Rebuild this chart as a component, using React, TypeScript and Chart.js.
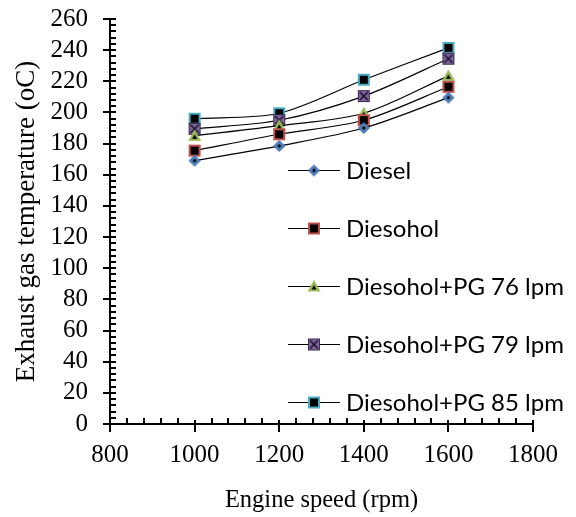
import React, { useEffect, useRef } from 'react';
import { Chart, registerables } from 'chart.js';

Chart.register(...registerables);

// ---- Data ----
const speeds = [1000, 1200, 1400, 1600];
const seriesLabels = [
  'Diesel',
  'Diesohol',
  'Diesohol+PG 76 lpm',
  'Diesohol+PG 79 lpm',
  'Diesohol+PG 85 lpm',
];
const diesel = [169, 178.5, 190, 209.5];
const diesohol = [175.5, 186, 195, 216.5];
const pg76 = [185, 191.5, 199.5, 223.5];
const pg79 = [189.5, 195, 210.5, 234.5];
const pg85 = [196, 199.5, 221, 241.5];
const xTitle = 'Engine speed (rpm)';
const yTitle = 'Exhaust gas temperature (oC)';

const SERIF = "'Liberation Serif', 'Times New Roman', serif";
const SANS = "Lato, 'Open Sans', sans-serif";

type Kind = 'diamond' | 'squareRed' | 'triangle' | 'squareX' | 'squareCyan';
const kinds: Kind[] = ['diamond', 'squareRed', 'triangle', 'squareX', 'squareCyan'];

function makeMarker(kind: Kind): HTMLCanvasElement {
  const s = 14;
  const c = document.createElement('canvas');
  c.width = s;
  c.height = s;
  const g = c.getContext('2d')!;
  const m = s / 2;
  if (kind === 'diamond') {
    g.beginPath();
    g.moveTo(m, m - 5.5);
    g.lineTo(m + 5.5, m);
    g.lineTo(m, m + 5.5);
    g.lineTo(m - 5.5, m);
    g.closePath();
    g.fillStyle = '#4F81BD';
    g.fill();
    g.strokeStyle = '#3A6AA8';
    g.lineWidth = 1;
    g.stroke();
    g.beginPath();
    g.moveTo(m, m - 2);
    g.lineTo(m + 2, m);
    g.lineTo(m, m + 2);
    g.lineTo(m - 2, m);
    g.closePath();
    g.fillStyle = '#000';
    g.fill();
  } else if (kind === 'squareRed' || kind === 'squareCyan') {
    g.fillStyle = kind === 'squareRed' ? '#C0504D' : '#4BACC6';
    g.fillRect(m - 6, m - 6, 12, 12);
    g.fillStyle = '#000';
    g.fillRect(m - 4, m - 4, 8, 8);
  } else if (kind === 'triangle') {
    g.beginPath();
    g.moveTo(m, m - 6.5);
    g.lineTo(m + 6.5, m + 5);
    g.lineTo(m - 6.5, m + 5);
    g.closePath();
    g.fillStyle = '#9BBB59';
    g.fill();
    g.beginPath();
    g.moveTo(m, m - 1.5);
    g.lineTo(m + 2.5, m + 3);
    g.lineTo(m - 2.5, m + 3);
    g.closePath();
    g.fillStyle = '#000';
    g.fill();
  } else {
    g.fillStyle = '#8064A2';
    g.fillRect(m - 6, m - 6, 12, 12);
    g.strokeStyle = '#3b2d4f';
    g.lineWidth = 1;
    g.strokeRect(m - 5.5, m - 5.5, 11, 11);
    g.strokeStyle = '#1a1226';
    g.lineWidth = 1.6;
    g.beginPath();
    g.moveTo(m - 4, m - 4);
    g.lineTo(m + 4, m + 4);
    g.moveTo(m + 4, m - 4);
    g.lineTo(m - 4, m + 4);
    g.stroke();
  }
  return c;
}

const axesPlugin = {
  id: 'excelAxes',
  afterDatasetsDraw(chart: any) {
    const { ctx, chartArea: ca, scales } = chart;
    const x = scales.x;
    const y = scales.y;
    ctx.save();
    ctx.strokeStyle = '#000';
    ctx.lineWidth = 2;
    ctx.beginPath();
    ctx.moveTo(ca.left, ca.top);
    ctx.lineTo(ca.left, ca.bottom);
    ctx.lineTo(ca.right, ca.bottom);
    ctx.stroke();
    ctx.beginPath();
    for (let v = 0; v <= 260; v += 4) {
      const py = Math.round(y.getPixelForValue(v));
      if (v % 20 === 0) {
        ctx.moveTo(ca.left - 7, py);
        ctx.lineTo(ca.left + 6, py);
      } else {
        ctx.moveTo(ca.left, py);
        ctx.lineTo(ca.left + 6, py);
      }
    }
    for (let v = 800; v <= 1800; v += 40) {
      const px = Math.round(x.getPixelForValue(v));
      if (v % 200 === 0) {
        ctx.moveTo(px, ca.bottom - 4);
        ctx.lineTo(px, ca.bottom + 8);
      } else {
        ctx.moveTo(px, ca.bottom - 6);
        ctx.lineTo(px, ca.bottom);
      }
    }
    ctx.stroke();
    ctx.restore();
  },
};

const legendPlugin = {
  id: 'insideLegend',
  afterDraw(chart: any) {
    const { ctx, chartArea: ca } = chart;
    ctx.save();
    const x0 = ca.left + 178;
    chart.data.datasets.forEach((ds: any, i: number) => {
      const yy = ca.top + 151.5 + i * 58;
      ctx.strokeStyle = '#000';
      ctx.lineWidth = 1.2;
      ctx.beginPath();
      ctx.moveTo(x0, yy);
      ctx.lineTo(x0 + 52, yy);
      ctx.stroke();
      const img = ds.pointStyle as HTMLCanvasElement;
      ctx.drawImage(img, x0 + 26 - img.width / 2, yy - img.height / 2);
      ctx.fillStyle = '#000';
      ctx.font = `24px ${SANS}`;
      ctx.textBaseline = 'middle';
      ctx.textAlign = 'left';
      ctx.fillText(ds.label, x0 + 58, yy + 1);
    });
    ctx.restore();
  },
};

export default function App() {
  const ref = useRef<HTMLCanvasElement>(null);
  useEffect(() => {
    const canvas = ref.current!;
    const values = [diesel, diesohol, pg76, pg79, pg85];
    const chart = new Chart(canvas, {
      type: 'line',
      data: {
        datasets: values.map((arr, i) => ({
          label: seriesLabels[i],
          data: speeds.map((s, j) => ({ x: s, y: arr[j] })),
          borderColor: '#000',
          borderWidth: 1.2,
          tension: 0.3,
          pointStyle: makeMarker(kinds[i]) as any,
          pointRadius: 6,
          fill: false,
        })),
      },
      options: {
        responsive: false,
        animation: false,
        devicePixelRatio: 1,
        layout: { padding: { top: 19, right: 43, left: 0, bottom: 0 } },
        plugins: {
          legend: { display: false },
          tooltip: { enabled: false },
        },
        scales: {
          x: {
            type: 'linear',
            min: 800,
            max: 1800,
            grid: { display: false, drawTicks: false },
            border: { display: false },
            ticks: {
              stepSize: 200,
              autoSkip: false,
              maxRotation: 0,
              padding: 16,
              color: '#000',
              font: { family: SERIF, size: 25 },
              callback: (v: any) => String(v),
            },
            title: {
              display: true,
              text: xTitle,
              color: '#000',
              font: { family: SERIF, size: 24.5 },
              padding: { top: 0, bottom: 2 },
            },
            afterFit(scale: any) {
              scale.height = 93;
              scale.paddingLeft = 0;
              scale.paddingRight = 0;
            },
          },
          y: {
            min: 0,
            max: 260,
            grid: { display: false, drawTicks: false },
            border: { display: false },
            ticks: {
              stepSize: 20,
              autoSkip: false,
              padding: 22,
              color: '#000',
              font: { family: SERIF, size: 25 },
              callback: (v: any) => String(v),
            },
            title: {
              display: true,
              text: yTitle,
              color: '#000',
              font: { family: SERIF, size: 27 },
              padding: { top: 11, bottom: 0 },
            },
            afterFit(scale: any) {
              scale.width = 110;
              scale.paddingTop = 0;
              scale.paddingBottom = 0;
            },
          },
        },
      },
      plugins: [axesPlugin, legendPlugin],
    });
    return () => chart.destroy();
  }, []);
  return (
    <div style={{ position: 'absolute', left: 0, top: 0, width: 576, height: 517, background: '#fff' }}>
      <canvas ref={ref} width={576} height={517} />
    </div>
  );
}
